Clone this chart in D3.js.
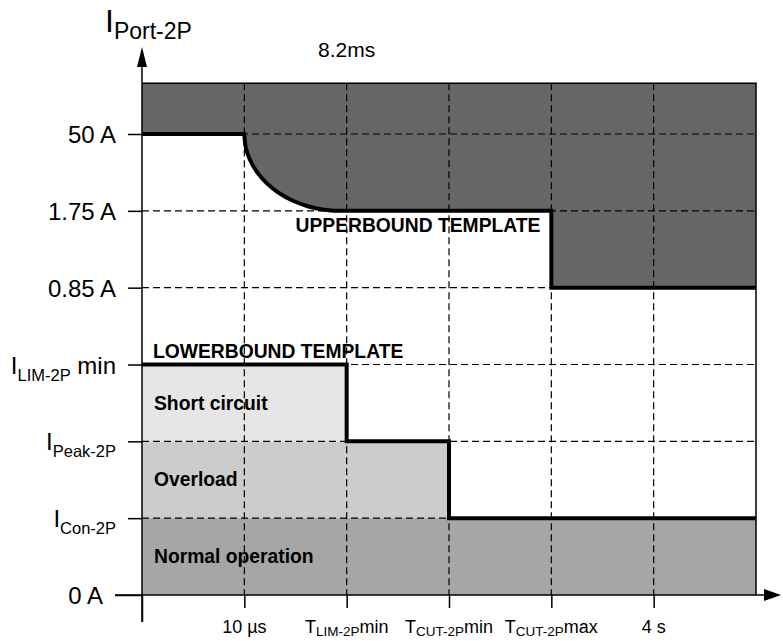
<!DOCTYPE html>
<html lang="en">
<head>
<meta charset="UTF-8">
<title>Port current templates</title>
<script src="https://d3js.org/d3.v7.min.js"></script>
<style>
    body { margin: 0; background: #fff; }
    svg text { font-family: "Liberation Sans", Arial, Helvetica, sans-serif; fill: #000; }
    .grid { stroke: #000; stroke-width: 1.2px; stroke-dasharray: 7,4; fill: none; }
    .bound { stroke: #000; stroke-width: 4px; fill: none; stroke-linejoin: miter; }
    .tag { font-weight: bold; font-size: 19.3px; }
</style>
</head>
<body>
<div id="chart"></div>
<script>
// time axis: evenly spaced steps, 0 = origin, 6 = right edge of the template
var xTicks = [0, 1, 2, 3, 4, 5];
var xLabelMain = ["", "10 µs", "T", "T", "T", "4 s"];
var xLabelSub  = ["", "", "LIM-2P", "CUT-2P", "CUT-2P", ""];
var xLabelTail = ["", "", "min", "min", "max", ""];

// current axis: evenly spaced levels
var yLevels = [0, 1, 2, 3, 4, 5, 6];
var yLabelMain = ["0 A", "I", "I", "I", "0.85 A", "1.75 A", "50 A"];
var yLabelSub  = ["", "Con-2P", "Peak-2P", "LIM-2P", "", "", ""];
var yLabelTail = ["", "", "", " min", "", "", ""];
var ceiling = 6.66;
var xEnd = 6;

// upper bound template (curve)
var ubStart = [[0, 6], [1, 6]];
var ubCurve = [[1, 6], [1.014, 5.826], [1.057, 5.658], [1.126, 5.5], [1.22, 5.357],
               [1.336, 5.234], [1.47, 5.134], [1.619, 5.06], [1.777, 5.015], [1.94, 5]];
var ubEnd = [[4, 5], [4, 4], [6, 4]];

// lower bound template
var lowerBound = [[0, 3], [2, 3], [2, 2], [3, 2], [3, 1], [6, 1]];

// operating regions under the lower bound
var regionNames = ["Short circuit", "Overload", "Normal operation"];
var regionEnd   = [2, 3, 6];
var regionLow   = [2, 1, 0];
var regionHigh  = [3, 2, 1];
var regionFill  = ["#e6e6e6", "#cccccc", "#a6a6a6"];

var width = 783, height = 641;

var svg = d3.select("#chart").append("svg")
    .attr("width", width)
    .attr("height", height);

var x = d3.scaleLinear().domain([0, 6]).range([142, 756]);
var y = d3.scaleLinear().domain([0, 6]).range([595, 134]);

// lower regions
regionNames.forEach(function(n, i) {
    svg.append("rect")
        .attr("x", x(0))
        .attr("y", y(regionHigh[i]))
        .attr("width", x(regionEnd[i]) - x(0))
        .attr("height", y(regionLow[i]) - y(regionHigh[i]))
        .attr("fill", regionFill[i]);
});

// upper bound path
var line = d3.line().x(function(d) { return x(d[0]); }).y(function(d) { return y(d[1]); });
var curveLine = d3.line().curve(d3.curveCatmullRom.alpha(0.5))
    .x(function(d) { return x(d[0]); }).y(function(d) { return y(d[1]); });
var ubPath = line(ubStart) + curveLine(ubCurve).replace(/^M[^LC]*/, "") +
    ubEnd.map(function(d) { return "L" + x(d[0]) + "," + y(d[1]); }).join("");

svg.append("path")
    .attr("d", ubPath + "L" + x(xEnd) + "," + y(ceiling) + "L" + x(0) + "," + y(ceiling) + "Z")
    .attr("fill", "#666666");

// dashed grid
svg.append("g").selectAll("line.v")
    .data(xTicks.slice(1))
    .enter().append("line")
    .attr("class", "grid")
    .attr("x1", function(d) { return x(d); })
    .attr("x2", function(d) { return x(d); })
    .attr("y1", y(ceiling))
    .attr("y2", y(0));

svg.append("g").selectAll("line.h")
    .data(yLevels.slice(1))
    .enter().append("line")
    .attr("class", "grid")
    .attr("x1", x(0))
    .attr("x2", x(xEnd))
    .attr("y1", function(d) { return y(d); })
    .attr("y2", function(d) { return y(d); });

// frame (top and right)
svg.append("path")
    .attr("d", "M" + x(0) + "," + y(ceiling) + "H" + x(xEnd) + "V" + y(0))
    .attr("stroke", "#000").attr("stroke-width", 1.5).attr("fill", "none");

// bounds
svg.append("path").attr("class", "bound").attr("d", ubPath);
svg.append("path").attr("class", "bound").attr("d", line(lowerBound));

// axes
var yAxis = svg.append("g")
    .attr("transform", "translate(" + x(0) + ",0)")
    .call(d3.axisLeft(y).tickValues(yLevels).tickSize(14).tickFormat(function() { return ""; }));
yAxis.select(".domain").remove();
yAxis.selectAll(".tick line").attr("stroke-width", 1.5)
    .filter(function(d) { return d === 0; }).attr("x2", -27);

var xAxis = svg.append("g")
    .attr("transform", "translate(0," + y(0) + ")")
    .call(d3.axisBottom(x).tickValues(xTicks).tickSize(13).tickFormat(function() { return ""; }));
xAxis.select(".domain").remove();
xAxis.selectAll(".tick line").attr("stroke-width", 1.5)
    .filter(function(d) { return d === 0; }).attr("y2", 27);

svg.append("line")
    .attr("x1", x(0)).attr("x2", x(0))
    .attr("y1", y(0) + 27).attr("y2", 60)
    .attr("stroke", "#000").attr("stroke-width", 1.5);
svg.append("path")
    .attr("d", "M" + x(0) + ",47L" + (x(0) - 5) + ",67L" + (x(0) + 5) + ",67Z")
    .attr("fill", "#000");

svg.append("line")
    .attr("x1", x(0) - 27).attr("x2", 770)
    .attr("y1", y(0)).attr("y2", y(0))
    .attr("stroke", "#000").attr("stroke-width", 1.5);
svg.append("path")
    .attr("d", "M781," + y(0) + "L764," + (y(0) - 6) + "L764," + (y(0) + 6) + "Z")
    .attr("fill", "#000");

// y labels
yLevels.forEach(function(v, i) {
    var t = svg.append("text")
        .attr("x", v === 0 ? x(0) - 39 : x(0) - 26)
        .attr("y", y(v) + 9)
        .attr("text-anchor", "end")
        .style("font-size", "24px");
    t.append("tspan").text(yLabelMain[i]);
    if (yLabelSub[i]) {
        t.append("tspan").attr("dy", 7).style("font-size", "16.5px").text(yLabelSub[i]);
        if (yLabelTail[i]) t.append("tspan").attr("dy", -7).text(yLabelTail[i].replace(" ", "\u00a0"));
    }
});

// x labels
xTicks.forEach(function(v, i) {
    if (!xLabelMain[i]) return;
    var t = svg.append("text")
        .attr("x", x(v))
        .attr("y", y(0) + 38)
        .attr("text-anchor", "middle")
        .style("font-size", "18px");
    t.append("tspan").text(xLabelMain[i]);
    if (xLabelSub[i]) {
        t.append("tspan").attr("dy", 3).style("font-size", "13.5px").text(xLabelSub[i]);
        t.append("tspan").attr("dy", -3).text(xLabelTail[i]);
    }
});

// axis title
var title = svg.append("text").attr("x", 105).attr("y", 32);
title.append("tspan").style("font-size", "32px").text("I");
title.append("tspan").attr("dy", 7).style("font-size", "23px").text("Port-2P");

svg.append("text")
    .attr("x", x(2)).attr("y", 57)
    .attr("text-anchor", "middle")
    .style("font-size", "21px")
    .text("8.2ms");

// template and region tags
svg.append("text").attr("class", "tag")
    .attr("x", x(1.5)).attr("y", y(5) + 21)
    .text("UPPERBOUND TEMPLATE");
svg.append("text").attr("class", "tag")
    .attr("x", x(0) + 11).attr("y", y(3) - 7)
    .text("LOWERBOUND TEMPLATE");
regionNames.forEach(function(n, i) {
    svg.append("text").attr("class", "tag")
        .attr("x", x(0) + 12)
        .attr("y", y(regionHigh[i]) + 45)
        .text(n);
});
</script>
</body>
</html>
